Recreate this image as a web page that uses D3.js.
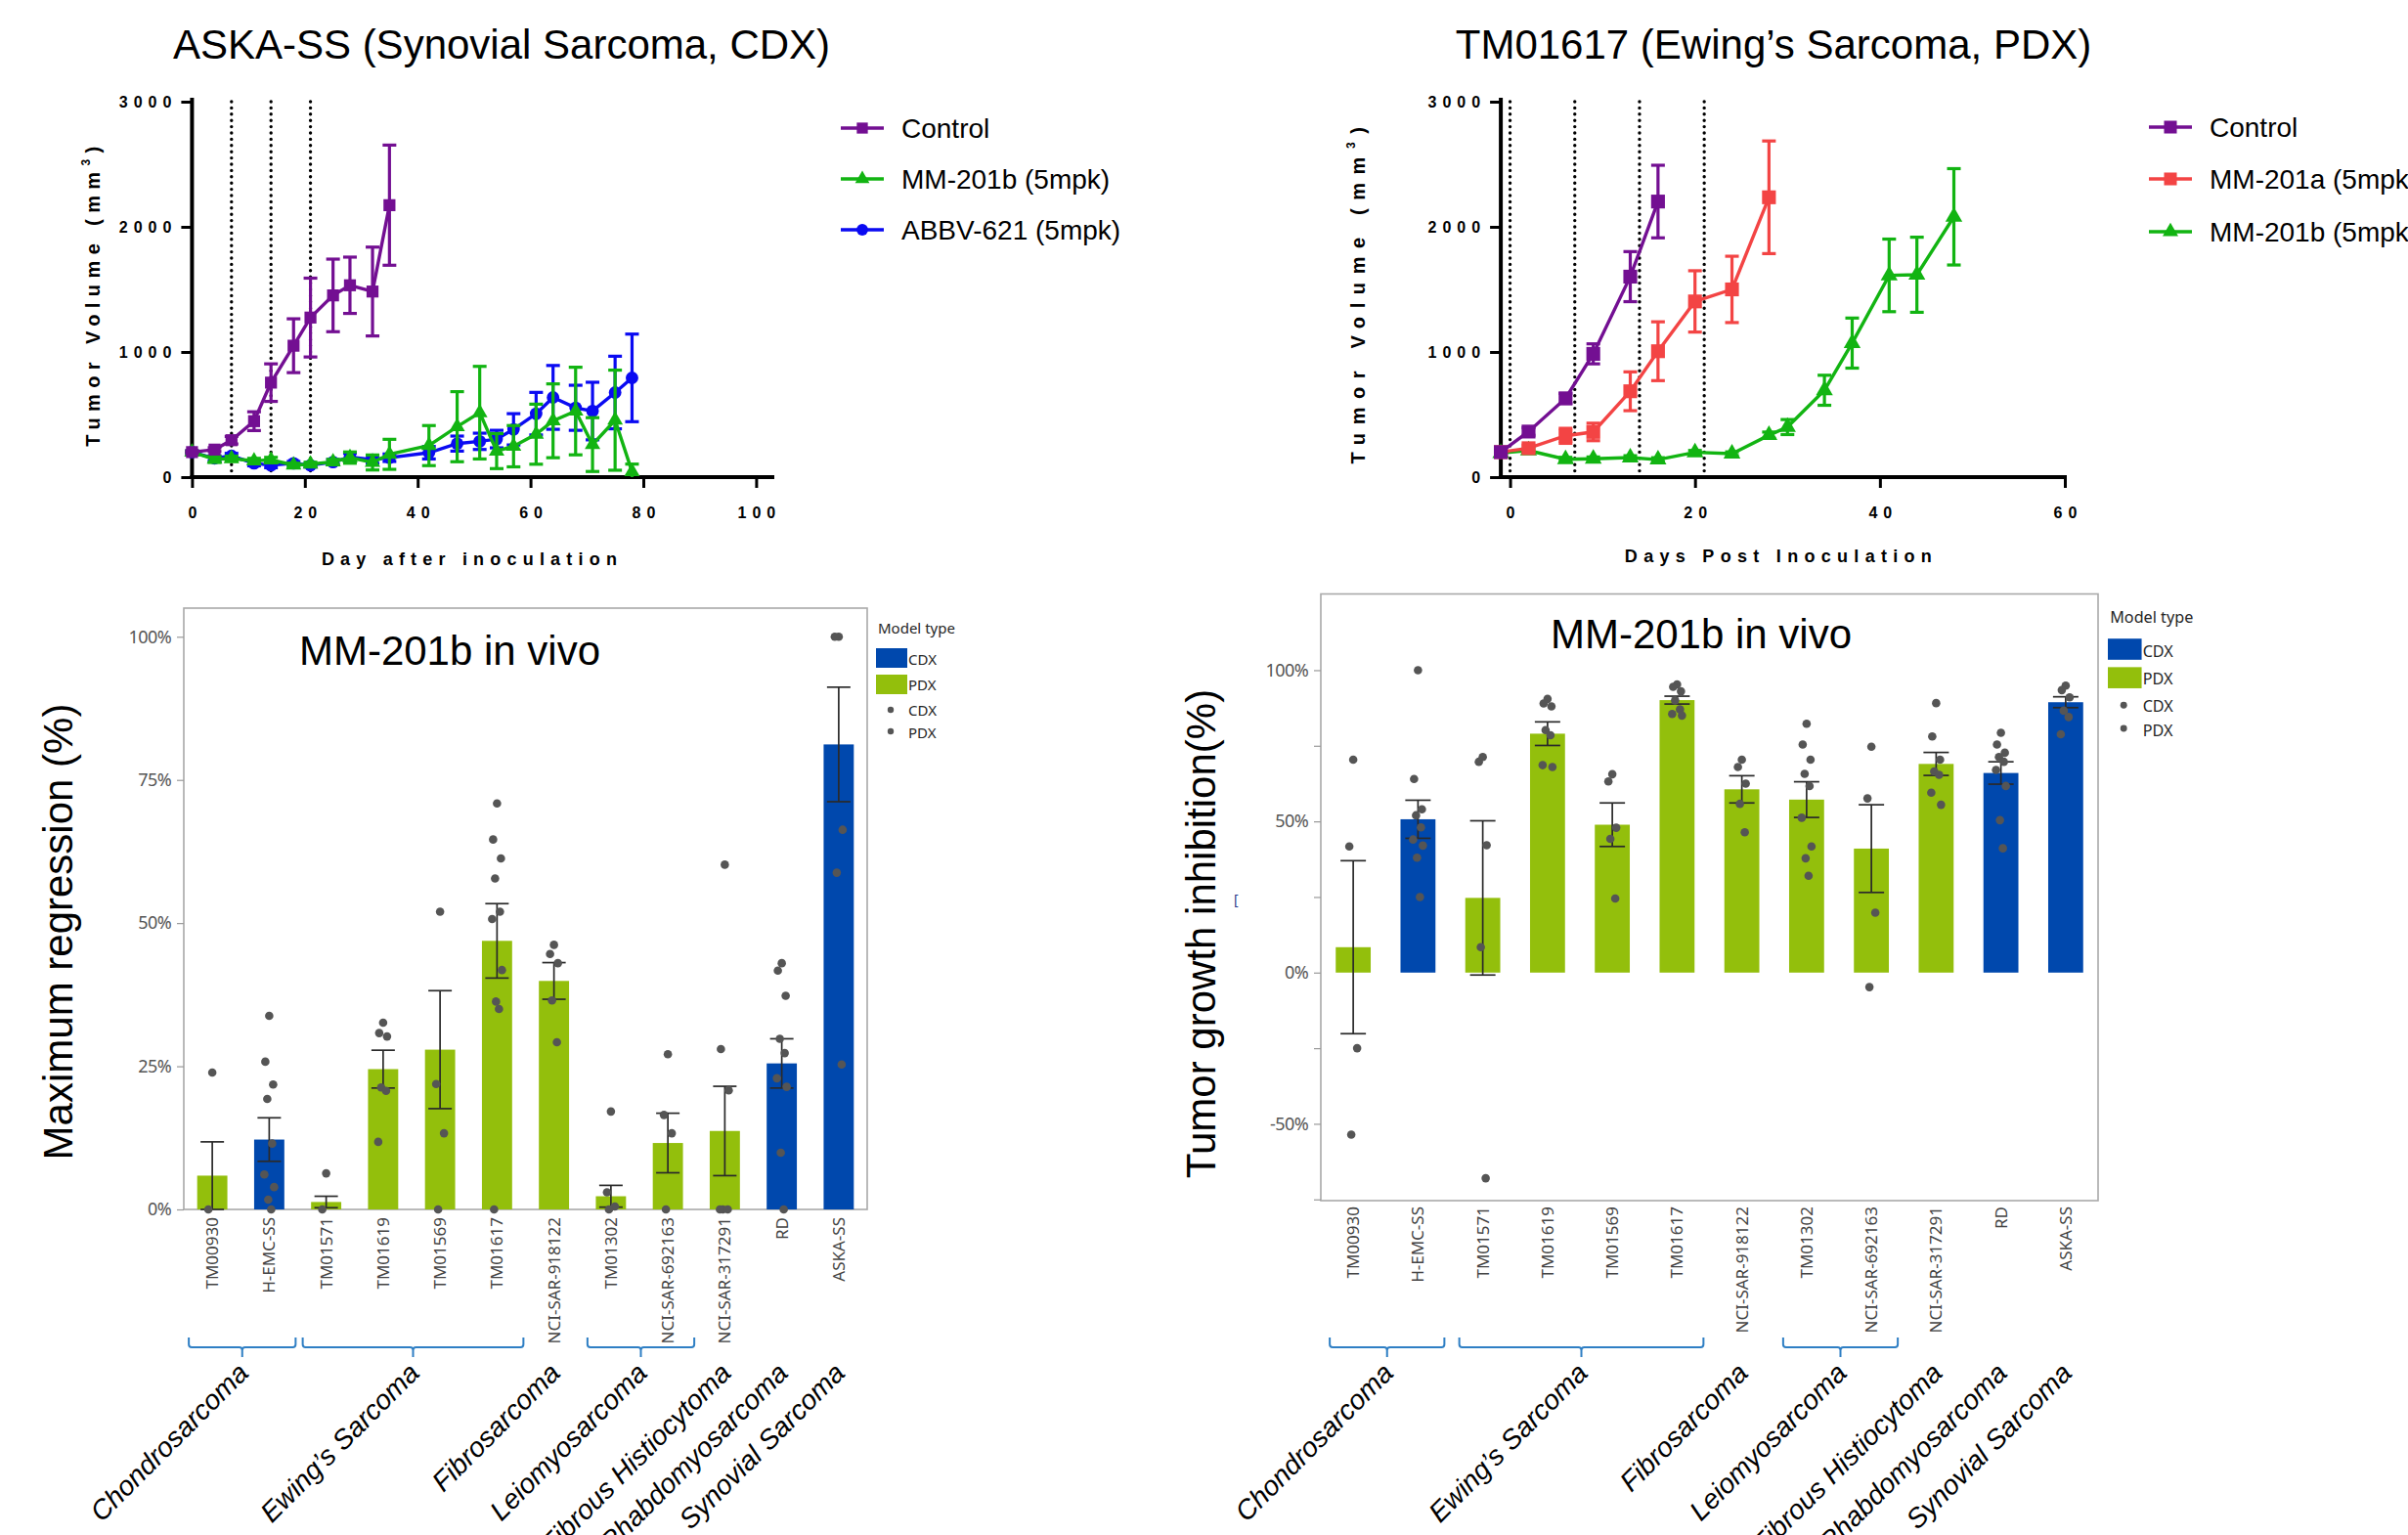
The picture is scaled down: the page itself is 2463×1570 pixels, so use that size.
<!DOCTYPE html>
<html lang="en">
<head>
<meta charset="UTF-8">
<title>MM-201b in vivo</title>
<script src="https://cdn.jsdelivr.net/npm/d3@7"></script>
<style>
  body { margin: 0; background: #fff; }
  svg { display: block; font-family: "Liberation Sans", Arial, sans-serif; }
</style>
</head>
<body>
<script>
const W = 2463, H = 1570;
const SANS = "'Liberation Sans', Arial, sans-serif";
const UI = "'Noto Sans', 'Open Sans', sans-serif";

// ---------- ASKA-SS (CDX) tumour growth ----------
const askaDays = [0,4,7,11,14,18,21,25,28,32,35,42,47,51,54,57,61,64,68,71,75,78];
const askaControl    = [200,220,295,447,755,1050,1275,1452,1533,1483,2173];
const askaControlErr = [10,15,30,75,150,215,315,290,225,355,480];
const askaMM201b     = [200,143,148,130,138,96,104,122,156,117,182,252,403,515,208,247,343,450,528,260,455,44];
const askaMM201bErr  = [10,25,20,20,20,15,15,20,45,60,120,160,280,370,140,165,240,295,350,215,400,60];
const askaABBV       = [200,150,170,110,95,110,95,120,160,140,155,195,268,286,304,382,507,637,554,528,676,793];
const askaABBVErr    = [10,20,20,20,20,15,15,20,30,30,30,50,60,65,70,125,170,255,180,230,290,350];
const askaDoses = [7,14,21];

// ---------- TM01617 (PDX) tumour growth ----------
const tmDaysControl = [-1,2,6,9,13,16];
const tmControl     = [200,364,629,985,1602,2202];
const tmControlErr  = [15,30,40,80,200,290];
const tmDaysA       = [-1,2,6,9,13,16,20,24,28];
const tmMM201a      = [200,231,330,361,686,1006,1404,1500,2236];
const tmMM201aErr   = [10,25,60,70,155,235,245,265,450];
const tmDaysB       = [-1,2,6,9,13,16,20,24,28,30,34,37,41,44,48];
const tmMM201b      = [192,213,143,146,156,140,198,187,335,400,694,1071,1612,1617,2080];
const tmMM201bErr   = [10,15,15,15,15,15,15,15,25,60,120,200,290,300,385];
const tmDoses = [0,7,14,21];

// ---------- bar charts ----------
const models = ["TM00930","H-EMC-SS","TM01571","TM01619","TM01569","TM01617",
                "NCI-SAR-918122","TM01302","NCI-SAR-692163","NCI-SAR-317291","RD","ASKA-SS"];
const modelType = ["PDX","CDX","PDX","PDX","PDX","PDX","PDX","PDX","PDX","PDX","CDX","CDX"];

const regMean = [5.9,12.2,1.3,24.5,27.9,46.9,39.9,2.3,11.6,13.7,25.5,81.2];
const regErr  = [5.9,3.8,1.0,3.3,10.3,6.5,3.2,1.9,5.2,7.8,4.3,10.0];
const regPoints = [
  [23.9,0],[33.8,25.8,21.8,19.3,11.5,6.1,3.9,1.7,0],[6.3,0],[32.6,30.8,30.2,21.3,20.7,11.8],
  [52,21.9,13.3,0],[70.9,64.6,61.3,57.8,52,50.7,41.8,36.3,35,0],[46.2,44.6,43,36.5,29.2],
  [17.1,3,0.5,0],[27.1,16.5,13.3,0],[60.2,28,20.8,0,0,0],[43,41.7,37.3,29.8,27.3,22.9,21.4,9.9,0],
  [100,100,66.3,58.8,25.3]];

const tgiMean = [8.4,50.7,24.7,79.0,48.9,90.1,60.6,57.2,41.0,69.0,66.0,89.4];
const tgiErr  = [28.6,6.3,25.5,3.9,7.2,1.3,4.5,5.9,14.5,3.8,3.7,1.8];
const tgiPoints = [
  [70.4,41.7,-25,-53.6],[100,64,54,52,48,44,42,38,25],[71.3,69.7,42.1,8.4,-68],
  [90.5,89,88,80.2,78.5,68.6,68],[65.6,63.2,47.9,44.2,24.5],[95.3,94.5,93,90,87,85.5,85],
  [70.4,68,62.5,55.8,46.4],[82.3,75.4,70.4,65.7,61.7,51.2,41.7,37.8,32],[74.7,57.6,19.8,-4.8],
  [89.1,78.1,70.4,66.5,65.4,59.5,55.5],[79.3,75.4,72.7,71.3,69.7,67,61.7,50.4,41.1],
  [94.9,93.4,91,86.6,84.5,78.8]];

const groupNames = ["Chondrosarcoma","Ewing’s Sarcoma","Fibrosarcoma","Leiomyosarcoma",
                    "Fibrous Histiocytoma","Rhabdomyosarcoma","Synovial Sarcoma"];
const groupFirst = [0,2,6,7,9,10,11];
const groupLast  = [1,5,6,8,9,10,11];

const typeColor = {CDX: "#0048ad", PDX: "#93bf0c"};

const svg = d3.select("body").append("svg")
    .attr("width", W).attr("height", H)
    .style("overflow", "hidden");
svg.append("rect").attr("width", W).attr("height", H).attr("fill", "#fff");

// ================= growth curves =================
function growthPanel(o) {
  const g = svg.append("g");
  const x = d3.scaleLinear().domain(o.xDomain).range(o.xRange);
  const y = d3.scaleLinear().domain([0, 3000]).range([488, 104]);
  const ax = x(o.xDomain[0]);

  // dosing days
  g.append("g").selectAll("line").data(o.doses).join("line")
      .attr("x1", d => x(d)).attr("x2", d => x(d))
      .attr("y1", y(3000)).attr("y2", y(0))
      .attr("stroke", "#000").attr("stroke-width", 3.4)
      .attr("stroke-linecap", "round").attr("stroke-dasharray", "0 6.4");

  const yAx = g.append("g").attr("transform", `translate(${ax},0)`)
      .call(d3.axisLeft(y).tickValues([0, 1000, 2000, 3000]).tickFormat(d3.format("d"))
        .tickSize(11).tickSizeOuter(0).tickPadding(10));
  const xAx = g.append("g").attr("transform", `translate(0,${y(0)})`)
      .call(d3.axisBottom(x).tickValues(o.xTicks).tickFormat(d3.format("d"))
        .tickSize(11).tickSizeOuter(0).tickPadding(20));
  [yAx, xAx].forEach(a => {
    a.select(".domain").remove();
    a.selectAll(".tick line").attr("stroke", "#000").attr("stroke-width", 3);
    a.selectAll(".tick text").attr("font-family", SANS).attr("font-size", 16)
      .attr("font-weight", "bold").attr("letter-spacing", 6).attr("fill", "#000");
  });
  yAx.selectAll(".tick text").attr("dx", 6);
  xAx.selectAll(".tick text").attr("dx", 3);

  g.append("line").attr("x1", ax).attr("x2", ax).attr("y1", y(3000) - 4).attr("y2", y(0) + 2)
      .attr("stroke", "#000").attr("stroke-width", 4);
  g.append("line").attr("x1", ax - 2).attr("x2", o.xEnd).attr("y1", y(0)).attr("y2", y(0))
      .attr("stroke", "#000").attr("stroke-width", 4);

  // series
  o.series.forEach(s => {
    const pts = s.days.map((d, i) => ({d, v: s.values[i], e: s.errors[i]}));
    const sg = g.append("g");
    sg.append("path").datum(pts)
        .attr("d", d3.line().x(p => x(p.d)).y(p => y(p.v)))
        .attr("fill", "none").attr("stroke", s.color).attr("stroke-width", 3.4);
    const eb = sg.append("g").attr("stroke", s.color).attr("stroke-width", 3.2);
    pts.forEach(p => {
      const lo = Math.max(0, p.v - p.e), hi = p.v + p.e, cx = x(p.d);
      eb.append("line").attr("x1", cx).attr("x2", cx).attr("y1", y(lo)).attr("y2", y(hi));
      eb.append("line").attr("x1", cx - 7).attr("x2", cx + 7).attr("y1", y(hi)).attr("y2", y(hi));
      if (lo > 0) eb.append("line").attr("x1", cx - 7).attr("x2", cx + 7).attr("y1", y(lo)).attr("y2", y(lo));
    });
    sg.selectAll("path.mk").data(pts).join("path").attr("class", "mk")
        .attr("transform", p => `translate(${x(p.d)},${y(p.v)})`)
        .attr("d", d3.symbol(s.symbol, s.size)).attr("fill", s.color);
  });

  // legend
  const lg = g.append("g");
  o.series.slice().reverse().forEach((s, i) => {
    const ly = o.legendY[i];
    lg.append("line").attr("x1", o.legendX).attr("x2", o.legendX + 44).attr("y1", ly).attr("y2", ly)
        .attr("stroke", s.color).attr("stroke-width", 3.4);
    lg.append("path").attr("transform", `translate(${o.legendX + 22},${ly})`)
        .attr("d", d3.symbol(s.symbol, s.size * 0.85)).attr("fill", s.color);
    lg.append("text").attr("x", o.legendX + 62).attr("y", ly + 10)
        .attr("font-family", SANS).attr("font-size", 28).text(s.name);
  });

  // titles
  g.append("text").attr("x", o.titleX).attr("y", 60).attr("text-anchor", "middle")
      .attr("font-family", SANS).attr("font-size", 42).text(o.title);
  g.append("text").attr("x", o.xTitleX).attr("y", o.xTitleY).attr("text-anchor", "middle")
      .attr("font-family", SANS).attr("font-weight", "bold").attr("font-size", 18)
      .attr("letter-spacing", o.xTitleLS).text(o.xTitle);
  const yt = g.append("text")
      .attr("transform", `translate(${o.yTitleX},${o.yTitleY}) rotate(-90)`)
      .attr("text-anchor", "middle").attr("font-family", SANS).attr("font-weight", "bold")
      .attr("font-size", 20).attr("letter-spacing", o.yTitleLS);
  yt.append("tspan").text("Tumor Volume (mm");
  yt.append("tspan").attr("font-size", 12).attr("dy", -10).text("3");
  yt.append("tspan").attr("dy", 10).text(")");
}

growthPanel({
  xDomain: [0, 100], xRange: [196.4, 773.4], xTicks: [0, 20, 40, 60, 80, 100], xEnd: 792,
  doses: askaDays.filter(d => askaDoses.includes(d)),
  title: "ASKA-SS (Synovial Sarcoma, CDX)", titleX: 513,
  xTitle: "Day after inoculation", xTitleX: 483, xTitleY: 578, xTitleLS: 6.2,
  yTitleX: 102, yTitleY: 300, yTitleLS: 6.4,
  legendX: 860, legendY: [131, 183, 235],
  series: [
    {name: "ABBV-621 (5mpk)", color: "#0a0af2", symbol: d3.symbolCircle, size: 130,
     days: askaDays, values: askaABBV, errors: askaABBVErr},
    {name: "MM-201b (5mpk)", color: "#12b412", symbol: d3.symbolTriangle, size: 110,
     days: askaDays, values: askaMM201b, errors: askaMM201bErr},
    {name: "Control", color: "#730f92", symbol: d3.symbolSquare, size: 150,
     days: askaDays.slice(0, askaControl.length), values: askaControl, errors: askaControlErr}
  ]
});

growthPanel({
  xDomain: [-1, 60], xRange: [1535.1, 2112], xTicks: [0, 20, 40, 60], xEnd: 2114,
  doses: tmDoses,
  title: "TM01617 (Ewing’s Sarcoma, PDX)", titleX: 1814,
  xTitle: "Days Post Inoculation", xTitleX: 1822, xTitleY: 575, xTitleLS: 6.3,
  yTitleX: 1396, yTitleY: 298, yTitleLS: 8.6,
  legendX: 2198, legendY: [130, 183, 237],
  series: [
    {name: "MM-201b (5mpk)", color: "#12b412", symbol: d3.symbolTriangle, size: 130,
     days: tmDaysB, values: tmMM201b, errors: tmMM201bErr},
    {name: "MM-201a (5mpk)", color: "#f34444", symbol: d3.symbolSquare, size: 200,
     days: tmDaysA, values: tmMM201a, errors: tmMM201aErr},
    {name: "Control", color: "#730f92", symbol: d3.symbolSquare, size: 200,
     days: tmDaysControl, values: tmControl, errors: tmControlErr}
  ]
});

// ================= bar charts =================
function barPanel(o) {
  const g = svg.append("g");
  const x = d3.scaleBand().domain(models).range([o.left, o.right])
      .paddingInner(o.pad).paddingOuter(o.pad / 2);
  const y = d3.scaleLinear().domain(o.yDomain).range([o.bottom, o.top]);
  const cx = m => x(m) + x.bandwidth() / 2;

  g.append("rect").attr("x", o.left).attr("y", o.top)
      .attr("width", o.right - o.left).attr("height", o.bottom - o.top)
      .attr("fill", "none").attr("stroke", "#a9a9a9").attr("stroke-width", 1.6);

  const yAx = g.append("g").attr("transform", `translate(${o.left},0)`)
      .call(d3.axisLeft(y).tickValues(o.ticks)
        .tickFormat(d => o.labelled.includes(d) ? d + "%" : "").tickSize(7).tickPadding(6));
  yAx.select(".domain").remove();
  yAx.selectAll(".tick line").attr("stroke", "#999").attr("stroke-width", 1.2);
  yAx.selectAll(".tick text").attr("font-family", UI).attr("font-size", 18)
      .attr("fill", "#555").attr("letter-spacing", -0.6);

  // bars
  g.append("g").selectAll("rect").data(models).join("rect")
      .attr("x", m => x(m)).attr("width", x.bandwidth())
      .attr("y", (m, i) => y(Math.max(0, o.mean[i])))
      .attr("height", (m, i) => Math.abs(y(o.mean[i]) - y(0)))
      .attr("fill", (m, i) => typeColor[modelType[i]]);

  // error bars
  const eb = g.append("g").attr("stroke", "#2a2a2a").attr("stroke-width", 1.7);
  models.forEach((m, i) => {
    const c = cx(m), lo = o.mean[i] - o.err[i], hi = o.mean[i] + o.err[i];
    eb.append("line").attr("x1", c).attr("x2", c).attr("y1", y(lo)).attr("y2", y(hi));
    [lo, hi].forEach(v => eb.append("line").attr("x1", c - o.cap).attr("x2", c + o.cap)
        .attr("y1", y(v)).attr("y2", y(v)));
  });

  // individual animals
  const jitter = [0, -4, 4, -2, 3, -5, 5, -1, 2, -3];
  const dots = models.flatMap((m, i) => o.points[i].map((v, j) => ({m, v, j})));
  g.append("g").selectAll("circle").data(dots).join("circle")
      .attr("cx", d => cx(d.m) + jitter[d.j % jitter.length])
      .attr("cy", d => y(d.v)).attr("r", 4.3).attr("fill", "#555");

  // model labels
  g.append("g").selectAll("text").data(models).join("text")
      .attr("transform", m => `translate(${cx(m) + 6},${o.bottom + o.labelGap}) rotate(-90)`)
      .attr("text-anchor", "end").attr("font-family", UI).attr("font-size", 17)
      .attr("fill", "#444").text(m => m);

  // brackets and histotype names
  const bg = g.append("g").attr("fill", "none").attr("stroke", "#2f7fc4").attr("stroke-width", 2);
  groupNames.forEach((name, k) => {
    const a = cx(models[groupFirst[k]]), b = cx(models[groupLast[k]]);
    let anchor = a;
    if (groupLast[k] > groupFirst[k]) {
      const x1 = a - 24, x2 = b + 27, mid = (x1 + x2) / 2;
      anchor = mid;
      bg.append("path").attr("d",
        `M${x1},1368 V1375 Q${x1},1378 ${x1 + 3},1378 H${mid - 3} Q${mid},1378 ${mid},1381 V1388` +
        `M${mid},1381 Q${mid},1378 ${mid + 3},1378 H${x2 - 3} Q${x2},1378 ${x2},1375 V1368`);
    }
    g.append("text").attr("transform", `translate(${anchor + 8},1406) rotate(-45)`)
        .attr("text-anchor", "end").attr("font-family", SANS).attr("font-style", "italic")
        .attr("font-size", 28).text(name);
  });

  // title in plot
  g.append("text").attr("x", o.titleX).attr("y", o.titleY).attr("text-anchor", "middle")
      .attr("font-family", SANS).attr("font-size", 42).text("MM-201b in vivo");

  // y title
  g.append("text").attr("transform", `translate(${o.yTitleX},${o.yTitleY}) rotate(-90)`)
      .attr("text-anchor", "middle").attr("font-family", SANS).attr("font-size", 42)
      .text(o.yTitle);

  // legend
  const s = o.legendScale;
  const lg = g.append("g").attr("transform", `translate(${o.legendX},${o.legendY}) scale(${s})`)
      .attr("font-family", UI).attr("font-size", 15).attr("fill", "#262626");
  lg.append("text").attr("x", 2).attr("y", 0).text("Model type");
  ["CDX", "PDX"].forEach((t, i) => {
    lg.append("rect").attr("x", 0).attr("y", 15 + i * 27).attr("width", 32).attr("height", 20)
        .attr("fill", typeColor[t]);
    lg.append("text").attr("x", 33).attr("y", 32 + i * 26).text(t);
    lg.append("circle").attr("cx", 15).attr("cy", 78 + i * 22).attr("r", 3.2).attr("fill", "#555");
    lg.append("text").attr("x", 33).attr("y", 84 + i * 23).text(t);
  });
}

barPanel({
  left: 188, right: 887, top: 622, bottom: 1237, pad: 0.47, cap: 12,
  yDomain: [0, 105], ticks: [0, 25, 50, 75, 100], labelled: [0, 25, 50, 75, 100],
  mean: regMean, err: regErr, points: regPoints, labelGap: 8,
  titleX: 460, titleY: 680, yTitle: "Maximum regression (%)", yTitleX: 74, yTitleY: 953,
  legendX: 896, legendY: 648, legendScale: 1
});

barPanel({
  left: 1351, right: 2146, top: 607.5, bottom: 1228, pad: 0.46, cap: 13,
  yDomain: [-75.4, 125.2], ticks: [-75, -50, -25, 0, 25, 50, 75, 100], labelled: [-50, 0, 50, 100],
  mean: tgiMean, err: tgiErr, points: tgiPoints, labelGap: 6,
  titleX: 1740, titleY: 663, yTitle: "Tumor growth inhibition(%)", yTitleX: 1243, yTitleY: 955,
  legendX: 2156, legendY: 637, legendScale: 1.08
});

// stray mark in the original figure
svg.append("text").attr("x", 1262).attr("y", 925).attr("font-family", UI)
    .attr("font-size", 14).attr("fill", "#2b3a8c").text("[");
</script>
</body>
</html>
